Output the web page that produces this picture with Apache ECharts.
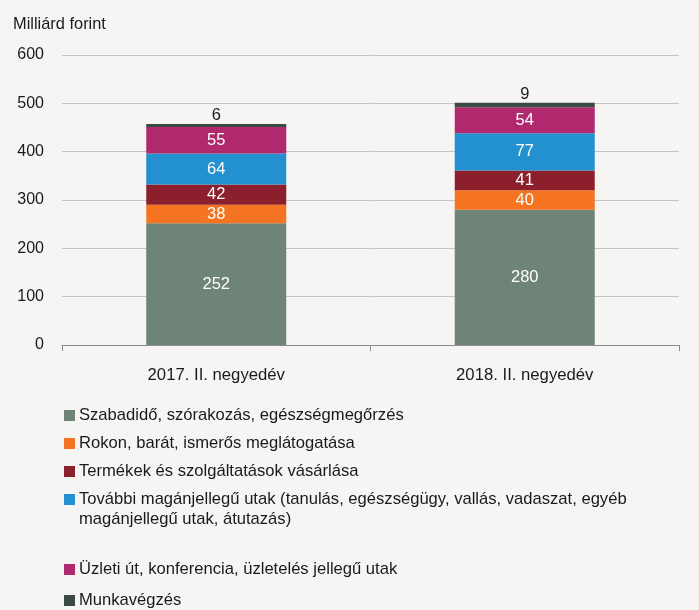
<!DOCTYPE html>
<html>
<head>
<meta charset="utf-8">
<script src="https://cdn.jsdelivr.net/npm/echarts@6/dist/echarts.min.js"></script>
<style>
  html, body { margin: 0; padding: 0; background: #f6f5f3; }
  #chart { width: 699px; height: 610px; }
</style>
</head>
<body>
<div id="chart"></div>
<script>
// adatok
const categories = ['2017. II. negyedév', '2018. II. negyedév']
const seriesNames = [
  'Szabadidő, szórakozás, egészségmegőrzés',
  'Rokon, barát, ismerős meglátogatása',
  'Termékek és szolgáltatások vásárlása',
  'További magánjellegű utak (tanulás, egészségügy, vallás, vadaszat, egyéb',
  'Üzleti út, konferencia, üzletelés jellegű utak',
  'Munkavégzés'
]
const szabadido = [252, 280]
const rokon = [38, 40]
const termekek = [42, 41]
const tovabbi = [64, 77]
const uzleti = [55, 54]
const munka = [6, 9]
const yTicks = [0, 100, 200, 300, 400, 500, 600]

const colors = ['#6f8478', '#f47421', '#8b1f2b', '#2391cf', '#b0296f', '#3c4a45']
const values = [szabadido, rokon, termekek, tovabbi, uzleti, munka]
const font = '"Liberation Sans", Arial, sans-serif'

const chart = echarts.init(document.getElementById('chart'))

const legendTops = [402, 430, 458, 486, 556, 587]

const option = {
  backgroundColor: '#f6f5f3',
  animation: false,
  textStyle: { fontFamily: font },
  title: {
    text: 'Milliárd forint',
    left: 8,
    top: 11,
    textStyle: { fontSize: 16.4, fontWeight: 'normal', color: '#1a1a1a', fontFamily: font }
  },
  grid: { left: 62, right: 20, top: 55, bottom: 265 },
  xAxis: {
    type: 'category',
    data: categories,
    axisLine: { lineStyle: { color: '#8c8c8c', width: 1 } },
    axisTick: { show: true, length: 6, lineStyle: { color: '#8c8c8c' } },
    axisLabel: { fontSize: 16.7, color: '#1a1a1a', margin: 22, fontFamily: font }
  },
  yAxis: {
    type: 'value',
    min: yTicks[0],
    max: yTicks[yTicks.length - 1],
    interval: 100,
    axisLine: { show: false },
    axisTick: { show: false },
    axisLabel: { fontSize: 16, color: '#1a1a1a', margin: 18, fontFamily: font },
    splitLine: { lineStyle: { color: '#c4c4c4', width: 1 } }
  },
  legend: seriesNames.map((name, i) => ({
    data: [name],
    left: 59,
    top: legendTops[i],
    itemWidth: 11,
    itemHeight: 11,
    itemGap: 4,
    icon: 'rect',
    textStyle: { fontSize: 16.6, color: '#1a1a1a', fontFamily: font, padding: [0, 0, 0, -1] }
  })),
  graphic: [{
    type: 'text',
    left: 79,
    top: 511,
    style: {
      text: 'magánjellegű utak, átutazás)',
      fontSize: 16.6,
      fill: '#1a1a1a',
      fontFamily: font
    }
  }],
  series: seriesNames.map((name, i) => ({
    name: name,
    type: 'bar',
    stack: 'total',
    barWidth: 140,
    itemStyle: { color: colors[i] },
    data: values[i],
    label: {
      show: true,
      position: i === 5 ? 'top' : 'inside',
      distance: 0,
      fontSize: 16.5,
      color: i === 5 ? '#1a1a1a' : '#ffffff',
      fontFamily: font
    }
  }))
}

chart.setOption(option)
</script>
</body>
</html>
